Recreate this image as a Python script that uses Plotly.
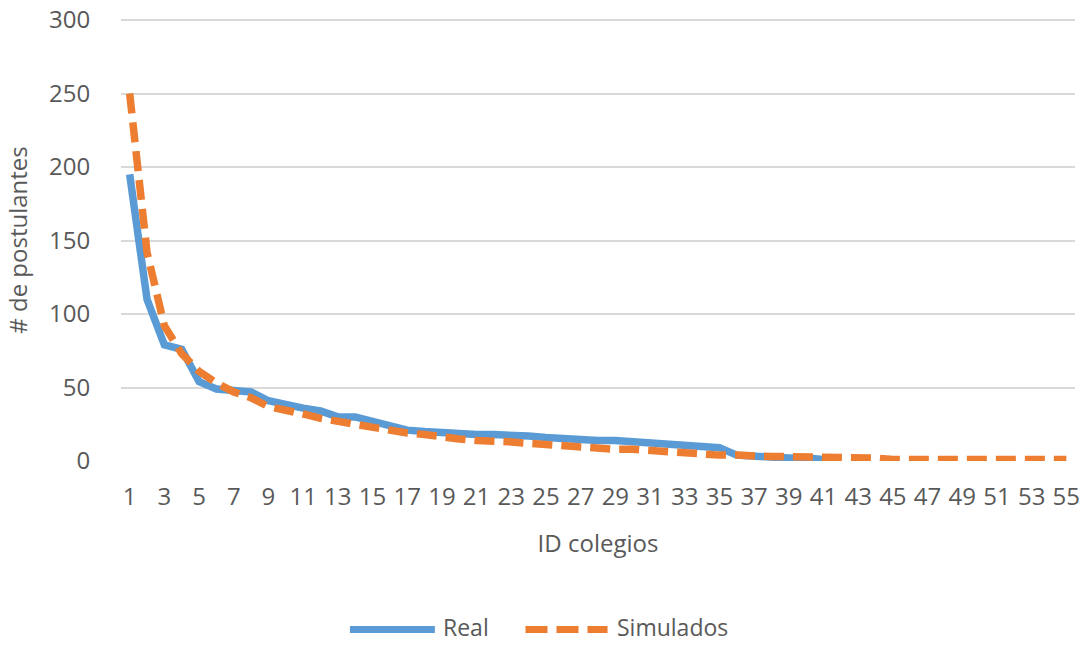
import plotly.graph_objects as go

ids = list(range(1, 56))
real = [195, 110, 79, 76, 54, 49, 48, 47, 41, 38, 36, 34, 30, 30, 27, 23, 21, 20, 19, 19,
        18, 18, 18, 17, 16, 15, 14, 14, 14, 13, 12, 11, 10, 9, 9, 4, 3, 3, 2, 2, 1, 0]
simulados = [250, 142, 92, 73, 61, 53, 47, 43, 37, 35, 32, 29, 27, 25, 22, 21, 19, 18, 16, 15,
             14, 14, 13, 12, 11, 10, 9, 8, 8, 8, 7, 6, 5, 5, 4, 4, 3, 3, 3, 3,
             2, 2, 2, 2, 1, 1, 1, 1, 1, 1, 1, 1, 1, 1, 1]
x_ticks = list(range(1, 56, 2))
y_ticks = [0, 50, 100, 150, 200, 250, 300]

BLUE = "#5B9BD5"
ORANGE = "#ED7D31"
GREY = "#595959"
FONT = "Open Sans"

fig = go.Figure()
fig.add_trace(go.Scatter(x=ids[:len(real)], y=real, mode="lines", name="Real",
                         line=dict(color=BLUE, width=7.5), showlegend=False))
fig.add_trace(go.Scatter(x=ids, y=simulados, mode="lines", name="Simulados",
                         line=dict(color=ORANGE, width=7.5, dash="20px,9px"), showlegend=False))

fig.update_layout(
    width=1090, height=645,
    margin=dict(l=121, r=15, t=19, b=184),
    paper_bgcolor="white", plot_bgcolor="white",
    font=dict(family=FONT, size=24, color=GREY),
    xaxis=dict(range=[0.5, 55.5], tickmode="array", tickvals=x_ticks,
               ticktext=[str(v) for v in x_ticks], tickangle=0, automargin=False,
               showgrid=False, zeroline=False, showline=False,
               ticks="outside", ticklen=14, tickcolor="rgba(0,0,0,0)",
               tickfont=dict(size=24, color=GREY),
               title=dict(text="ID colegios", font=dict(size=24, color=GREY), standoff=24)),
    yaxis=dict(range=[0, 300.7], tickmode="array", tickvals=y_ticks, automargin=False,
               showgrid=True, gridcolor="#D9D9D9", gridwidth=2,
               zeroline=False, showline=False,
               ticks="outside", ticklen=25, tickcolor="rgba(0,0,0,0)",
               tickfont=dict(size=24, color=GREY),
               title=dict(text="# de postulantes", font=dict(size=24, color=GREY), standoff=14)),
)

# legend drawn below the plot (Excel-style long line samples)
ly = -0.381
ty = -0.376
fig.add_shape(type="line", xref="paper", yref="paper", x0=0.240, x1=0.329, y0=ly, y1=ly,
              line=dict(color=BLUE, width=7))
fig.add_shape(type="line", xref="paper", yref="paper", x0=0.424, x1=0.510, y0=ly, y1=ly,
              line=dict(color=ORANGE, width=7, dash="22px,9px"))
fig.add_annotation(text="Real", xref="paper", yref="paper", x=0.336, y=ty,
                   xanchor="left", yanchor="middle", showarrow=False, borderpad=0,
                   font=dict(size=23, color=GREY))
fig.add_annotation(text="Simulados", xref="paper", yref="paper", x=0.519, y=ty,
                   xanchor="left", yanchor="middle", showarrow=False, borderpad=0,
                   font=dict(size=23, color=GREY))

fig.write_html("out.html")
